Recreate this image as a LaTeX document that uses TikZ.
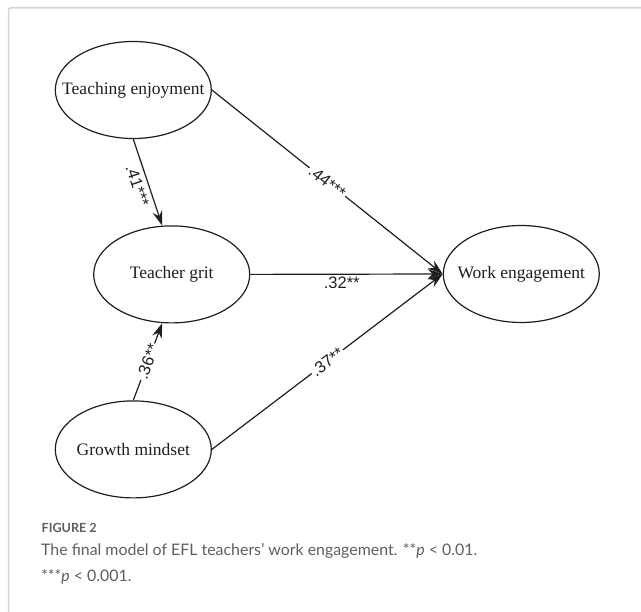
\documentclass[tikz,border=0pt]{standalone}
\usepackage{fontspec}
\setmainfont{Liberation Serif}
\newfontfamily\labfont{Liberation Sans}
\newfontfamily\capfont{Lato}
\usetikzlibrary{shapes.geometric,arrows.meta}
\definecolor{framegray}{HTML}{D4D4D4}
\definecolor{capgray}{HTML}{5E5E5E}
\definecolor{ink}{HTML}{1E1E1E}
\tikzset{
  latent/.style={ellipse, draw=ink, line width=1.2pt, minimum width=156pt, minimum height=97pt, inner sep=0pt, font=\fontsize{17.5}{20}\selectfont, text=ink},
  path/.style={draw=ink, line width=1.2pt, -{Stealth[length=15pt,width=10pt,inset=5pt]}},
  coef/.style={font=\labfont\fontsize{16.5}{18}\selectfont, text=ink, sloped, inner sep=1.5pt},
  brk/.style={coef, fill=white},
  captxt/.style={anchor=base west, inner sep=0pt, text=capgray, font=\capfont\fontsize{15.9}{18}\selectfont},
}
\begin{document}
\begin{tikzpicture}[x=1pt, y=-1pt]
\useasboundingbox (0,0) rectangle (641,612);
\draw[framegray, line width=1.5pt, rounded corners=2pt] (8.5,640) -- (8.5,8) -- (660,8);

\node[latent] (TE) at (133.3,90) {\makebox[0pt]{Teaching enjoyment}};
\node[latent] (TG) at (171.7,274.4) {\makebox[0pt]{Teacher grit}};
\node[latent] (WE) at (521.3,274) {\makebox[0pt]{Work engagement}};
\node[latent] (GM) at (133.3,449.4) {\makebox[0pt]{Growth mindset}};

\draw[path] (TE.south) -- node[coef, below=3pt, pos=0.5] (l41) {.41***} (TG.101.6);
\draw[path] (GM.north) -- node[brk, pos=0.5] (l36) {.36**} (TG.259);
\draw[path] (TE.east) -- node[brk, pos=0.5] (l44) {.44***} (WE.west);
\draw[path] (TG.east) -- node[coef, below=1pt, pos=0.475] (l32) {.32**} (WE.west);
\draw[path] (GM.east) -- node[brk, pos=0.5] (l37) {.37**} (WE.west);

\node[captxt, font=\capfont\bfseries\fontsize{12.6}{14}\selectfont] (fig) at (41.5,532.3) {FIGURE 2};
\node[captxt] (cap1) at (41,555.7) {The final model of EFL teachers’ work engagement. **\textit{p} < 0.01.};
\node[captxt] (cap2) at (41,582) {***\textit{p} < 0.001.};
\end{tikzpicture}
\end{document}
